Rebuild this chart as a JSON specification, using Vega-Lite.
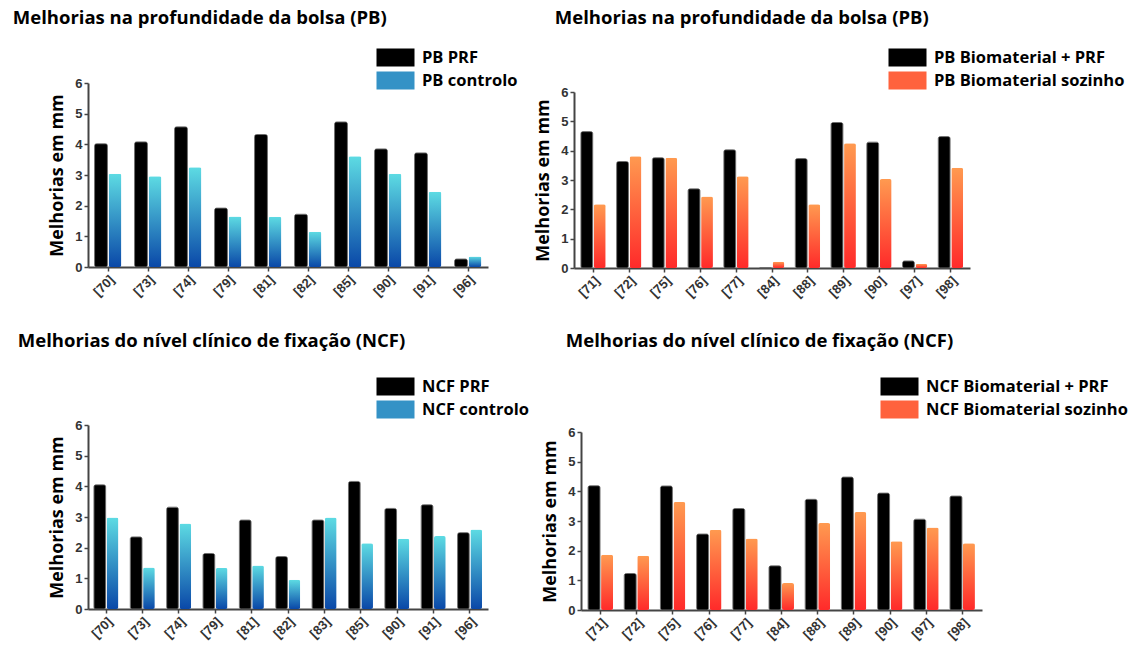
{
  "$schema": "https://vega.github.io/schema/vega-lite/v6.json",
  "background": "white",
  "padding": {"left": 12, "top": 8, "right": 5, "bottom": 5},
  "config": {
    "view": {"stroke": null},
    "font": "Open Sans",
    "title": {"font": "Open Sans", "fontWeight": "bold", "fontSize": 18.5, "color": "black", "anchor": "start", "frame": "bounds"},
    "axis": {
      "labelFont": "Liberation Sans", "labelFontWeight": "bold", "labelColor": "#333", "labelFontSize": 13,
      "domainColor": "#444", "domainWidth": 2, "tickColor": "#444", "tickWidth": 1.5, "tickSize": 4, "grid": false,
      "titleFont": "Open Sans", "titleFontWeight": "bold", "titleFontSize": 18, "titleColor": "black"
    },
    "legend": {
      "labelFont": "Open Sans", "labelFontWeight": "bold", "labelFontSize": 16.5, "labelColor": "black", "labelLimit": 400,
      "symbolType": "M-2,-0.95H2V0.95H-2Z", "symbolSize": 361, "symbolStrokeWidth": 0, "rowPadding": 4, "labelOffset": 17, "symbolOffset": 10,
      "title": null, "orient": "none", "symbolOpacity": 1
    },
    "bar": {"cornerRadius": 2}
  },
  "resolve": {"scale": {"color": "independent"}, "legend": {"color": "independent"}},
  "spacing": 31,
  "datasets": {
    "pb1": [
      {"estudo": "[70]", "grupo": "PB PRF", "valor": 4.02}, {"estudo": "[70]", "grupo": "PB controlo", "valor": 3.04},
      {"estudo": "[73]", "grupo": "PB PRF", "valor": 4.08}, {"estudo": "[73]", "grupo": "PB controlo", "valor": 2.96},
      {"estudo": "[74]", "grupo": "PB PRF", "valor": 4.57}, {"estudo": "[74]", "grupo": "PB controlo", "valor": 3.25},
      {"estudo": "[79]", "grupo": "PB PRF", "valor": 1.92}, {"estudo": "[79]", "grupo": "PB controlo", "valor": 1.65},
      {"estudo": "[81]", "grupo": "PB PRF", "valor": 4.32}, {"estudo": "[81]", "grupo": "PB controlo", "valor": 1.64},
      {"estudo": "[82]", "grupo": "PB PRF", "valor": 1.72}, {"estudo": "[82]", "grupo": "PB controlo", "valor": 1.15},
      {"estudo": "[85]", "grupo": "PB PRF", "valor": 4.73}, {"estudo": "[85]", "grupo": "PB controlo", "valor": 3.61},
      {"estudo": "[90]", "grupo": "PB PRF", "valor": 3.85}, {"estudo": "[90]", "grupo": "PB controlo", "valor": 3.04},
      {"estudo": "[91]", "grupo": "PB PRF", "valor": 3.72}, {"estudo": "[91]", "grupo": "PB controlo", "valor": 2.45},
      {"estudo": "[96]", "grupo": "PB PRF", "valor": 0.26}, {"estudo": "[96]", "grupo": "PB controlo", "valor": 0.34}
    ],
    "pb2": [
      {"estudo": "[71]", "grupo": "PB Biomaterial + PRF", "valor": 4.65}, {"estudo": "[71]", "grupo": "PB Biomaterial sozinho", "valor": 2.17},
      {"estudo": "[72]", "grupo": "PB Biomaterial + PRF", "valor": 3.63}, {"estudo": "[72]", "grupo": "PB Biomaterial sozinho", "valor": 3.81},
      {"estudo": "[75]", "grupo": "PB Biomaterial + PRF", "valor": 3.76}, {"estudo": "[75]", "grupo": "PB Biomaterial sozinho", "valor": 3.76},
      {"estudo": "[76]", "grupo": "PB Biomaterial + PRF", "valor": 2.7}, {"estudo": "[76]", "grupo": "PB Biomaterial sozinho", "valor": 2.44},
      {"estudo": "[77]", "grupo": "PB Biomaterial + PRF", "valor": 4.03}, {"estudo": "[77]", "grupo": "PB Biomaterial sozinho", "valor": 3.13},
      {"estudo": "[84]", "grupo": "PB Biomaterial + PRF", "valor": 0}, {"estudo": "[84]", "grupo": "PB Biomaterial sozinho", "valor": 0.21},
      {"estudo": "[88]", "grupo": "PB Biomaterial + PRF", "valor": 3.73}, {"estudo": "[88]", "grupo": "PB Biomaterial sozinho", "valor": 2.17},
      {"estudo": "[89]", "grupo": "PB Biomaterial + PRF", "valor": 4.96}, {"estudo": "[89]", "grupo": "PB Biomaterial sozinho", "valor": 4.25},
      {"estudo": "[90]", "grupo": "PB Biomaterial + PRF", "valor": 4.29}, {"estudo": "[90]", "grupo": "PB Biomaterial sozinho", "valor": 3.03},
      {"estudo": "[97]", "grupo": "PB Biomaterial + PRF", "valor": 0.24}, {"estudo": "[97]", "grupo": "PB Biomaterial sozinho", "valor": 0.14},
      {"estudo": "[98]", "grupo": "PB Biomaterial + PRF", "valor": 4.48}, {"estudo": "[98]", "grupo": "PB Biomaterial sozinho", "valor": 3.42}
    ],
    "ncf1": [
      {"estudo": "[70]", "grupo": "NCF PRF", "valor": 4.05}, {"estudo": "[70]", "grupo": "NCF controlo", "valor": 2.98},
      {"estudo": "[73]", "grupo": "NCF PRF", "valor": 2.35}, {"estudo": "[73]", "grupo": "NCF controlo", "valor": 1.35},
      {"estudo": "[74]", "grupo": "NCF PRF", "valor": 3.32}, {"estudo": "[74]", "grupo": "NCF controlo", "valor": 2.79},
      {"estudo": "[79]", "grupo": "NCF PRF", "valor": 1.81}, {"estudo": "[79]", "grupo": "NCF controlo", "valor": 1.34},
      {"estudo": "[81]", "grupo": "NCF PRF", "valor": 2.9}, {"estudo": "[81]", "grupo": "NCF controlo", "valor": 1.42},
      {"estudo": "[82]", "grupo": "NCF PRF", "valor": 1.71}, {"estudo": "[82]", "grupo": "NCF controlo", "valor": 0.95},
      {"estudo": "[83]", "grupo": "NCF PRF", "valor": 2.9}, {"estudo": "[83]", "grupo": "NCF controlo", "valor": 2.98},
      {"estudo": "[85]", "grupo": "NCF PRF", "valor": 4.16}, {"estudo": "[85]", "grupo": "NCF controlo", "valor": 2.14},
      {"estudo": "[90]", "grupo": "NCF PRF", "valor": 3.28}, {"estudo": "[90]", "grupo": "NCF controlo", "valor": 2.29},
      {"estudo": "[91]", "grupo": "NCF PRF", "valor": 3.4}, {"estudo": "[91]", "grupo": "NCF controlo", "valor": 2.38},
      {"estudo": "[96]", "grupo": "NCF PRF", "valor": 2.49}, {"estudo": "[96]", "grupo": "NCF controlo", "valor": 2.59}
    ],
    "ncf2": [
      {"estudo": "[71]", "grupo": "NCF Biomaterial + PRF", "valor": 4.19}, {"estudo": "[71]", "grupo": "NCF Biomaterial sozinho", "valor": 1.86},
      {"estudo": "[72]", "grupo": "NCF Biomaterial + PRF", "valor": 1.23}, {"estudo": "[72]", "grupo": "NCF Biomaterial sozinho", "valor": 1.83},
      {"estudo": "[75]", "grupo": "NCF Biomaterial + PRF", "valor": 4.18}, {"estudo": "[75]", "grupo": "NCF Biomaterial sozinho", "valor": 3.64},
      {"estudo": "[76]", "grupo": "NCF Biomaterial + PRF", "valor": 2.56}, {"estudo": "[76]", "grupo": "NCF Biomaterial sozinho", "valor": 2.7},
      {"estudo": "[77]", "grupo": "NCF Biomaterial + PRF", "valor": 3.42}, {"estudo": "[77]", "grupo": "NCF Biomaterial sozinho", "valor": 2.41},
      {"estudo": "[84]", "grupo": "NCF Biomaterial + PRF", "valor": 1.49}, {"estudo": "[84]", "grupo": "NCF Biomaterial sozinho", "valor": 0.91},
      {"estudo": "[88]", "grupo": "NCF Biomaterial + PRF", "valor": 3.73}, {"estudo": "[88]", "grupo": "NCF Biomaterial sozinho", "valor": 2.93},
      {"estudo": "[89]", "grupo": "NCF Biomaterial + PRF", "valor": 4.48}, {"estudo": "[89]", "grupo": "NCF Biomaterial sozinho", "valor": 3.3},
      {"estudo": "[90]", "grupo": "NCF Biomaterial + PRF", "valor": 3.94}, {"estudo": "[90]", "grupo": "NCF Biomaterial sozinho", "valor": 2.32},
      {"estudo": "[97]", "grupo": "NCF Biomaterial + PRF", "valor": 3.06}, {"estudo": "[97]", "grupo": "NCF Biomaterial sozinho", "valor": 2.78},
      {"estudo": "[98]", "grupo": "NCF Biomaterial + PRF", "valor": 3.84}, {"estudo": "[98]", "grupo": "NCF Biomaterial sozinho", "valor": 2.25}
    ]
  },
  "vconcat": [
    {
      "resolve": {"scale": {"color": "independent"}, "legend": {"color": "independent"}},
      "spacing": 16,
      "hconcat": [
        {
          "title": {"text": "Melhorias na profundidade da bolsa (PB)", "dx": -36, "offset": 21},
          "width": 400, "height": 184,
          "data": {"name": "pb1"},
          "encoding": {
            "x": {"field": "estudo", "type": "nominal", "sort": null, "scale": {"paddingInner": 0.3, "paddingOuter": 0.15}, "axis": {"title": null, "labelAngle": -45}},
            "y": {"field": "valor", "type": "quantitative", "scale": {"domain": [0, 6]}, "axis": {"title": "Melhorias em mm", "values": [0, 1, 2, 3, 4, 5, 6], "titlePadding": 8}}
          },
          "layer": [
            {
              "transform": [{"filter": "datum.grupo === 'PB PRF'"}],
              "mark": {"type": "bar", "width": {"band": 0.46}, "xOffset": -7, "stroke": "#555", "strokeWidth": 0.8},
              "encoding": {
                "color": {"field": "grupo", "type": "nominal", "sort": null,
                  "scale": {"domain": ["PB PRF", "PB controlo"], "range": ["black", "#3492c6"]},
                  "legend": {"legendX": 288, "legendY": -35}}
              }
            },
            {
              "transform": [{"filter": "datum.grupo === 'PB controlo'"}],
              "mark": {"type": "bar", "width": {"band": 0.46}, "xOffset": 7, "fill": {"gradient": "linear", "x1": 0, "y1": 1, "x2": 0, "y2": 0, "stops": [{"offset": 0, "color": "#0a48a8"}, {"offset": 1, "color": "#5ddbe3"}]}},
              "encoding": {}
            }
          ]
        },
        {
          "title": {"text": "Melhorias na profundidade da bolsa (PB)", "dx": 20, "offset": 21},
          "width": 396, "height": 185,
          "data": {"name": "pb2"},
          "encoding": {
            "x": {"field": "estudo", "type": "nominal", "sort": null, "scale": {"paddingInner": 0.28, "paddingOuter": 0.18}, "axis": {"title": null, "labelAngle": -45}},
            "y": {"field": "valor", "type": "quantitative", "scale": {"domain": [0, 6], "range": [185, 9]}, "axis": {"title": "Melhorias em mm", "values": [0, 1, 2, 3, 4, 5, 6], "titlePadding": 8}}
          },
          "layer": [
            {
              "transform": [{"filter": "datum.grupo === 'PB Biomaterial + PRF'"}],
              "mark": {"type": "bar", "width": {"band": 0.46}, "xOffset": -6.5, "stroke": "#555", "strokeWidth": 0.8},
              "encoding": {
                "color": {"field": "grupo", "type": "nominal", "sort": null,
                  "scale": {"domain": ["PB Biomaterial + PRF", "PB Biomaterial sozinho"], "range": ["black", "#ff623d"]},
                  "legend": {"legendX": 314, "legendY": -35}}
              }
            },
            {
              "transform": [{"filter": "datum.grupo === 'PB Biomaterial sozinho'"}],
              "mark": {"type": "bar", "width": {"band": 0.46}, "xOffset": 6.5, "fill": {"gradient": "linear", "x1": 0, "y1": 1, "x2": 0, "y2": 0, "stops": [{"offset": 0, "color": "#ff2a2a"}, {"offset": 1, "color": "#ff9a50"}]}},
              "encoding": {}
            }
          ]
        }
      ]
    },
    {
      "resolve": {"scale": {"color": "independent"}, "legend": {"color": "independent"}},
      "spacing": 12,
      "hconcat": [
        {
          "title": {"text": "Melhorias do nível clínico de fixação (NCF)", "dx": -31, "offset": 27},
          "width": 400, "height": 184,
          "data": {"name": "ncf1"},
          "encoding": {
            "x": {"field": "estudo", "type": "nominal", "sort": null, "scale": {"paddingInner": 0.3, "paddingOuter": 0.15}, "axis": {"title": null, "labelAngle": -45}},
            "y": {"field": "valor", "type": "quantitative", "scale": {"domain": [0, 6]}, "axis": {"title": "Melhorias em mm", "values": [0, 1, 2, 3, 4, 5, 6], "titlePadding": 8}}
          },
          "layer": [
            {
              "transform": [{"filter": "datum.grupo === 'NCF PRF'"}],
              "mark": {"type": "bar", "width": {"band": 0.46}, "xOffset": -6.4, "stroke": "#555", "strokeWidth": 0.8},
              "encoding": {
                "color": {"field": "grupo", "type": "nominal", "sort": null,
                  "scale": {"domain": ["NCF PRF", "NCF controlo"], "range": ["black", "#3492c6"]},
                  "legend": {"legendX": 288, "legendY": -48}}
              }
            },
            {
              "transform": [{"filter": "datum.grupo === 'NCF controlo'"}],
              "mark": {"type": "bar", "width": {"band": 0.46}, "xOffset": 6.4, "fill": {"gradient": "linear", "x1": 0, "y1": 1, "x2": 0, "y2": 0, "stops": [{"offset": 0, "color": "#0a48a8"}, {"offset": 1, "color": "#5ddbe3"}]}},
              "encoding": {}
            }
          ]
        },
        {
          "title": {"text": "Melhorias do nível clínico de fixação (NCF)", "dx": 24, "offset": 27},
          "width": 401, "height": 185,
          "data": {"name": "ncf2"},
          "encoding": {
            "x": {"field": "estudo", "type": "nominal", "sort": null, "scale": {"paddingInner": 0.28, "paddingOuter": 0.18}, "axis": {"title": null, "labelAngle": -45}},
            "y": {"field": "valor", "type": "quantitative", "scale": {"domain": [0, 6], "range": [185, 7]}, "axis": {"title": "Melhorias em mm", "values": [0, 1, 2, 3, 4, 5, 6], "titlePadding": 8}}
          },
          "layer": [
            {
              "transform": [{"filter": "datum.grupo === 'NCF Biomaterial + PRF'"}],
              "mark": {"type": "bar", "width": {"band": 0.46}, "xOffset": -6.5, "stroke": "#555", "strokeWidth": 0.8},
              "encoding": {
                "color": {"field": "grupo", "type": "nominal", "sort": null,
                  "scale": {"domain": ["NCF Biomaterial + PRF", "NCF Biomaterial sozinho"], "range": ["black", "#ff623d"]},
                  "legend": {"legendX": 299, "legendY": -48}}
              }
            },
            {
              "transform": [{"filter": "datum.grupo === 'NCF Biomaterial sozinho'"}],
              "mark": {"type": "bar", "width": {"band": 0.46}, "xOffset": 6.5, "fill": {"gradient": "linear", "x1": 0, "y1": 1, "x2": 0, "y2": 0, "stops": [{"offset": 0, "color": "#ff2a2a"}, {"offset": 1, "color": "#ff9a50"}]}},
              "encoding": {}
            }
          ]
        }
      ]
    }
  ]
}
